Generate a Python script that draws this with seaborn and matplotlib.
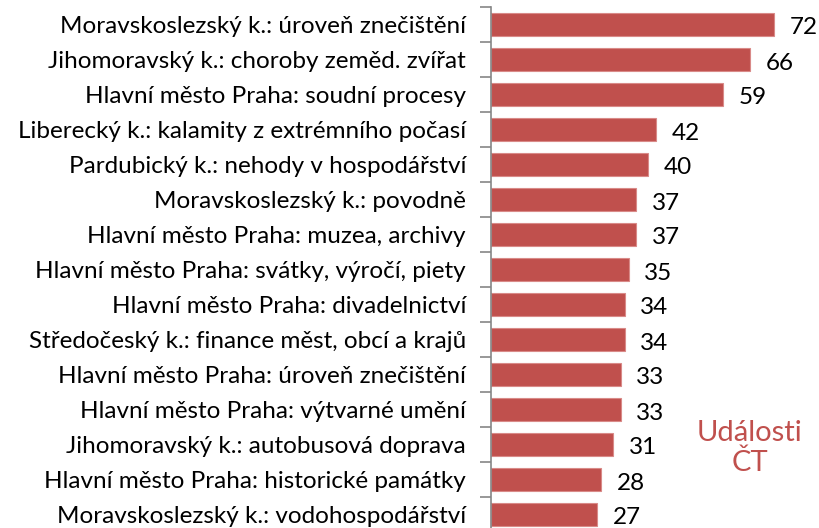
import matplotlib
matplotlib.use("Agg")
import matplotlib.pyplot as plt
import seaborn as sns
import pandas as pd

categories = [
    "Moravskoslezský k.: úroveň znečištění",
    "Jihomoravský k.: choroby zeměd. zvířat",
    "Hlavní město Praha: soudní procesy",
    "Liberecký k.: kalamity z extrémního počasí",
    "Pardubický k.: nehody v hospodářství",
    "Moravskoslezský k.: povodně",
    "Hlavní město Praha: muzea, archivy",
    "Hlavní město Praha: svátky, výročí, piety",
    "Hlavní město Praha: divadelnictví",
    "Středočeský k.: finance měst, obcí a krajů",
    "Hlavní město Praha: úroveň znečištění",
    "Hlavní město Praha: výtvarné umění",
    "Jihomoravský k.: autobusová doprava",
    "Hlavní město Praha: historické památky",
    "Moravskoslezský k.: vodohospodářství",
]
values = [72, 66, 59, 42, 40, 37, 37, 35, 34, 34, 33, 33, 31, 28, 27]
series_label = "Události\nČT"

df = pd.DataFrame({"cat": categories, "val": values})

sns.set_theme(style="white")
plt.rcParams["font.family"] = ["Lato", "DejaVu Sans"]

fig = plt.figure(figsize=(8.2, 5.28), dpi=100)
bottom = -4 / 528
top = 1 - 7 / 528
ax = fig.add_axes([491/820, bottom, 1 - 491/820, top - bottom])

color = "#C0504D"
sns.barplot(data=df, y="cat", x="val", orient="h", color=color, width=0.66,
            edgecolor="#D98A88", linewidth=0.8, saturation=1, ax=ax)

ax.set_xlim(0, 83.7)
ax.set_ylim(len(categories) - 0.5, -0.5)
ax.set_xlabel("")
ax.set_ylabel("")
ax.set_xticks([])

for s in ["top", "right", "bottom"]:
    ax.spines[s].set_visible(False)
ax.spines["left"].set_color("#868686")
ax.spines["left"].set_linewidth(1.2)

# tick marks at category boundaries
ax.set_yticks([i - 0.5 for i in range(len(categories) + 1)], minor=False)
ax.set_yticklabels([])
ax.tick_params(axis="y", which="major", length=8, width=1.2, color="#868686", direction="out", left=True)
ax.set_yticks(range(len(categories)), minor=True)
ax.set_yticklabels(categories, minor=True, fontsize=17.5, color="black")
ax.tick_params(axis="y", which="minor", length=0, pad=18)

for i, v in enumerate(values):
    ax.text(v + 4.0, i + 0.1, str(v), va="center", ha="left", fontsize=17.5, color="black")

fig.text(750/820, 1 - 448/528, series_label, ha="center", va="center",
         fontsize=21, color=color, linespacing=1.15)

fig.savefig("out.png", dpi=100)
